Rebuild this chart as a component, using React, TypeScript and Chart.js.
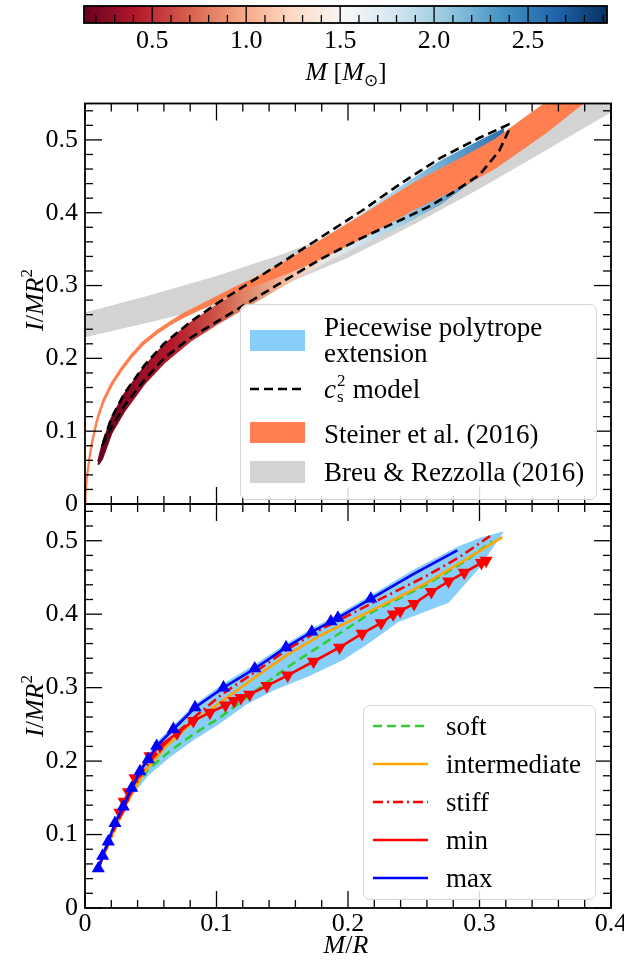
import React, { useEffect, useRef } from 'react';
import { Chart, registerables } from 'chart.js';
Chart.register(...registerables);

const FONT = "'Liberation Serif', 'Times New Roman', serif";

// ---------------- axes / ticks ----------------
const xTicks = [0, 0.1, 0.2, 0.3, 0.4];
const yTicks = [0, 0.1, 0.2, 0.3, 0.4, 0.5];
const massTicks = [0.5, 1.0, 1.5, 2.0, 2.5];
const massMin = 0.137;
const massMax = 2.92;

// ---------------- top panel data ----------------
// Breu & Rezzolla (2016) band
const grayC = [0, 0.05, 0.1, 0.15, 0.2, 0.25, 0.3, 0.35, 0.4];
const grayLow = [0.229, 0.25, 0.272, 0.3, 0.338, 0.384, 0.433, 0.485, 0.538];
const grayHigh = [0.263, 0.287, 0.313, 0.343, 0.378, 0.42, 0.468, 0.518, 0.585];

// Steiner et al. (2016) band
const steinerC = [0, 0.0005, 0.0015, 0.003, 0.005, 0.0075, 0.01, 0.014, 0.02, 0.027, 0.035, 0.044, 0.055, 0.065, 0.075, 0.088, 0.1, 0.113, 0.133, 0.155, 0.18, 0.21, 0.25, 0.29, 0.312, 0.35, 0.378, 0.4];
const steinerUp = [0, 0.018, 0.038, 0.06, 0.083, 0.104, 0.122, 0.143, 0.165, 0.185, 0.204, 0.222, 0.238, 0.25, 0.261, 0.273, 0.284, 0.296, 0.313, 0.335, 0.362, 0.395, 0.44, 0.478, 0.5, 0.55, 0.585, 0.62];
const steinerLo = [0, 0.016, 0.036, 0.057, 0.08, 0.101, 0.119, 0.14, 0.162, 0.182, 0.201, 0.219, 0.235, 0.247, 0.257, 0.268, 0.278, 0.29, 0.303, 0.318, 0.338, 0.365, 0.405, 0.44, 0.462, 0.51, 0.55, 0.58];

// Piecewise polytrope extension (cloud of models, coloured by mass)
const ppC = [0.010, 0.013, 0.02, 0.03, 0.045, 0.06, 0.08, 0.10, 0.12, 0.15, 0.18, 0.21, 0.24, 0.27, 0.30, 0.318];
const ppUp = [0.058, 0.08, 0.117, 0.151, 0.188, 0.218, 0.248, 0.272, 0.294, 0.328, 0.363, 0.397, 0.435, 0.47, 0.498, 0.514];
const ppLo = [0.054, 0.062, 0.097, 0.128, 0.165, 0.194, 0.224, 0.247, 0.268, 0.3, 0.33, 0.357, 0.383, 0.412, 0.452, 0.505];

// c_s^2 model envelope
const csUpC = [0.013, 0.02, 0.03, 0.045, 0.06, 0.08, 0.10, 0.12, 0.15, 0.18, 0.21, 0.24, 0.27, 0.30, 0.322];
const csUpI = [0.08, 0.118, 0.152, 0.19, 0.22, 0.25, 0.275, 0.298, 0.332, 0.367, 0.402, 0.44, 0.475, 0.503, 0.521];
const csLoC = [0.013, 0.02, 0.03, 0.045, 0.06, 0.08, 0.10, 0.12, 0.15, 0.18, 0.21, 0.24, 0.26, 0.28, 0.30, 0.315, 0.322];
const csLoI = [0.08, 0.105, 0.135, 0.17, 0.2, 0.228, 0.25, 0.272, 0.305, 0.337, 0.365, 0.39, 0.407, 0.428, 0.452, 0.485, 0.512];

// ---------------- bottom panel data ----------------
const bandUpC = [0.0095, 0.0134, 0.0177, 0.0228, 0.0291, 0.0355, 0.0418, 0.0481, 0.0545, 0.0672, 0.0837, 0.1053, 0.1291, 0.1529, 0.1725, 0.1923, 0.2173, 0.25, 0.2831, 0.30, 0.318];
const bandUpI = [0.052, 0.074, 0.094, 0.12, 0.143, 0.168, 0.19, 0.207, 0.225, 0.248, 0.277, 0.305, 0.331, 0.359, 0.38, 0.399, 0.425, 0.46, 0.491, 0.503, 0.512];
const bandLoC = [0.0095, 0.0115, 0.018, 0.0253, 0.0355, 0.0481, 0.0646, 0.0824, 0.1027, 0.123, 0.1436, 0.17, 0.196, 0.215, 0.2383, 0.2765, 0.2989, 0.318];
const bandLoI = [0.05, 0.055, 0.09, 0.118, 0.153, 0.181, 0.206, 0.229, 0.252, 0.278, 0.297, 0.316, 0.338, 0.36, 0.39, 0.4163, 0.4616, 0.512];

const softC = [0.0115, 0.018, 0.0253, 0.0355, 0.0481, 0.0646, 0.0824, 0.1027, 0.123, 0.1541, 0.191, 0.2199, 0.2594, 0.29, 0.3094];
const softI = [0.06, 0.095, 0.1223, 0.159, 0.1886, 0.2137, 0.2366, 0.2593, 0.2867, 0.328, 0.371, 0.4044, 0.44, 0.473, 0.4993];

const interC = [0.0101, 0.02, 0.03, 0.045, 0.06, 0.08, 0.1068, 0.13, 0.1541, 0.18, 0.2173, 0.2594, 0.29, 0.3173];
const interI = [0.053, 0.096, 0.137, 0.185, 0.217, 0.25, 0.285, 0.315, 0.345, 0.372, 0.4044, 0.4423, 0.475, 0.505];

const stiffC = [0.0101, 0.02, 0.03, 0.045, 0.06, 0.08, 0.105, 0.13, 0.1541, 0.18, 0.2173, 0.2594, 0.285, 0.3081];
const stiffI = [0.054, 0.098, 0.14, 0.19, 0.222, 0.255, 0.292, 0.322, 0.3523, 0.38, 0.414, 0.4518, 0.478, 0.5064];

const minC = [0.0265, 0.0297, 0.033, 0.038, 0.0494, 0.057, 0.07, 0.0824, 0.095, 0.1068, 0.1133, 0.1186, 0.1252, 0.1383, 0.1541, 0.1738, 0.1936, 0.2107, 0.2252, 0.2344, 0.2397, 0.2502, 0.2634, 0.2765, 0.2884, 0.3015, 0.305];
const minI = [0.13, 0.145, 0.158, 0.177, 0.2068, 0.2205, 0.238, 0.2548, 0.266, 0.276, 0.282, 0.286, 0.2907, 0.3025, 0.3167, 0.3356, 0.3547, 0.3736, 0.388, 0.3997, 0.4044, 0.414, 0.4305, 0.4448, 0.4566, 0.47, 0.473];

const maxC = [0.0101, 0.0134, 0.0177, 0.0228, 0.0291, 0.0355, 0.0418, 0.0481, 0.0545, 0.0672, 0.0837, 0.1053, 0.1291, 0.1529, 0.1725, 0.187, 0.1923, 0.2173, 0.25, 0.2831];
const maxI = [0.0538, 0.071, 0.0904, 0.1155, 0.138, 0.1634, 0.186, 0.2023, 0.2205, 0.2434, 0.273, 0.300, 0.326, 0.3547, 0.376, 0.390, 0.395, 0.421, 0.455, 0.487];
const maxMarkerCount = 18;

// ---------------- styles ----------------
const RDBU = ['#67001f', '#b2182b', '#d6604d', '#f4a582', '#fddbc7', '#f7f7f7', '#d1e5f0', '#92c5de', '#4393c3', '#2166ac', '#053061'];
const CLOUD_STOPS: [number, string][] = [
  [0.01, '#67001f'], [0.035, '#8e0c25'], [0.065, '#b2182b'], [0.095, '#cb4a42'], [0.12, '#df8064'],
  [0.15, '#f1b89c'], [0.18, '#f3e4dc'], [0.205, '#d5e7f1'], [0.24, '#a6cfe4'], [0.28, '#5fa2cc'], [0.32, '#2a6fb0'],
];

const pts = (xs: number[], ys: number[]) => xs.map((x, i) => ({ x, y: ys[i] }));
const shape = (lc: number[], li: number[], uc: number[], ui: number[]) => [...pts(lc, li), ...pts(uc, ui).reverse()];
const fmt = (v: number) => (v === 0 ? '0' : v.toFixed(1));
const zeroPad = (s: any) => { s.paddingLeft = 0; s.paddingRight = 0; s.paddingTop = 0; s.paddingBottom = 0; };

function inwardTicks(sides: { top: boolean; bottom: boolean; left: boolean; right: boolean }) {
  return {
    id: 'inwardTicks',
    afterDraw(chart: any) {
      const { ctx, chartArea: a, scales } = chart;
      const xs = scales.x;
      const ys = scales.y;
      const MAJ = 17;
      const MIN = 8;
      ctx.save();
      ctx.strokeStyle = '#000';
      ctx.lineWidth = 1.3;
      const line = (x1: number, y1: number, x2: number, y2: number) => {
        ctx.beginPath();
        ctx.moveTo(x1, y1);
        ctx.lineTo(x2, y2);
        ctx.stroke();
      };
      for (let k = 0; k <= 20; k++) {
        const v = k * 0.02;
        const px = xs.getPixelForValue(v);
        const len = k % 5 === 0 ? MAJ : MIN;
        if (sides.bottom) line(px, a.bottom, px, a.bottom - len);
        if (sides.top) line(px, a.top, px, a.top + len);
      }
      for (let k = 0; k <= 27; k++) {
        const v = k * 0.02;
        const py = ys.getPixelForValue(v);
        const len = k % 5 === 0 ? MAJ : MIN;
        if (sides.left) line(a.left, py, a.left + len, py);
        if (sides.right) line(a.right, py, a.right - len, py);
      }
      ctx.lineWidth = 1.8;
      ctx.strokeRect(a.left, a.top, a.right - a.left, a.bottom - a.top);
      ctx.restore();
    },
  };
}

const colorbarPlugin = {
  id: 'colorbar',
  afterDraw(chart: any) {
    const { ctx, chartArea: a, scales } = chart;
    const xs = scales.x;
    ctx.save();
    const g = ctx.createLinearGradient(a.left, 0, a.right, 0);
    RDBU.forEach((c, i) => g.addColorStop(i / (RDBU.length - 1), c));
    ctx.fillStyle = g;
    ctx.fillRect(a.left, a.top, a.right - a.left, a.bottom - a.top);
    ctx.strokeStyle = '#000';
    ctx.lineWidth = 1.3;
    for (let k = 2; k <= 29; k++) {
      const v = k / 10;
      const px = xs.getPixelForValue(v);
      const major = k % 5 === 0;
      ctx.beginPath();
      ctx.moveTo(px, a.bottom);
      ctx.lineTo(px, major ? a.top : a.bottom - 8);
      ctx.stroke();
    }
    ctx.lineWidth = 1.8;
    ctx.strokeRect(a.left, a.top, a.right - a.left, a.bottom - a.top);
    ctx.restore();
  },
};

const tickFont = { family: FONT, size: 26, lineHeight: 1 };

function makeColorbar(canvas: HTMLCanvasElement) {
  return new Chart(canvas, {
    type: 'line',
    data: { datasets: [] },
    options: {
      animation: false,
      responsive: true,
      maintainAspectRatio: false,
      layout: { padding: { left: 84, right: 17, top: 6, bottom: 0 }, autoPadding: false } as any,
      plugins: { legend: { display: false }, tooltip: { enabled: false } },
      scales: {
        x: {
          type: 'linear',
          min: massMin,
          max: massMax,
          grid: { display: false, drawTicks: false },
          border: { display: false },
          afterBuildTicks: (s: any) => { s.ticks = massTicks.map((v) => ({ value: v })); },
          ticks: { font: tickFont, color: '#000', padding: 5, callback: (v: any) => Number(v).toFixed(1) },
          afterFit: (s: any) => { s.height = 39; zeroPad(s); },
        },
        y: { display: false, min: 0, max: 1 },
      },
    },
    plugins: [colorbarPlugin],
  } as any);
}

function axisX(showLabels: boolean, height: number) {
  return {
    type: 'linear',
    min: 0,
    max: 0.4,
    grid: { display: false, drawTicks: false },
    border: { display: false },
    afterBuildTicks: (s: any) => { s.ticks = xTicks.map((v) => ({ value: v })); },
    ticks: { display: showLabels, font: tickFont, color: '#000', padding: 3, maxRotation: 0, autoSkip: false, callback: (v: any) => fmt(Number(v)) },
    afterFit: (s: any) => { s.height = height; zeroPad(s); },
  };
}
function axisY() {
  return {
    type: 'linear',
    min: 0,
    max: 0.55,
    grid: { display: false, drawTicks: false },
    border: { display: false },
    afterBuildTicks: (s: any) => { s.ticks = yTicks.map((v) => ({ value: v })); },
    ticks: { font: tickFont, color: '#000', padding: 7, autoSkip: false, callback: (v: any) => fmt(Number(v)) },
    afterFit: (s: any) => { s.width = 85; zeroPad(s); },
  };
}

function makeTop(canvas: HTMLCanvasElement) {
  const cloudFill = (c: any) => {
    const ch = c.chart;
    if (!ch.chartArea) return '#d6604d';
    const xs = ch.scales.x;
    const first = CLOUD_STOPS[0][0];
    const last = CLOUD_STOPS[CLOUD_STOPS.length - 1][0];
    const g = ch.ctx.createLinearGradient(xs.getPixelForValue(first), 0, xs.getPixelForValue(last), 0);
    CLOUD_STOPS.forEach(([v, col]) => g.addColorStop((v - first) / (last - first), col));
    return g;
  };
  return new Chart(canvas, {
    type: 'line',
    data: {
      datasets: [
        { label: 'Breu & Rezzolla (2016)', data: shape(grayC, grayLow, grayC, grayHigh), fill: 'shape', backgroundColor: '#d3d3d3', borderWidth: 0, order: 10 },
        { label: 'Piecewise polytrope extension', data: shape(ppC, ppLo, ppC, ppUp), fill: 'shape', backgroundColor: cloudFill, borderColor: cloudFill, borderWidth: 2, order: 9 },
        { label: 'Steiner et al. (2016)', data: shape(steinerC, steinerLo, steinerC, steinerUp), fill: 'shape', backgroundColor: '#ff7f50', borderColor: '#ff7f50', borderWidth: 2, order: 8 },
        { label: 'c_s^2 model', data: shape(csLoC, csLoI, csUpC, csUpI), fill: false, borderColor: '#000', borderWidth: 2.6, borderDash: [9, 5], order: 1 },
      ],
    },
    options: {
      animation: false,
      responsive: true,
      maintainAspectRatio: false,
      layout: { padding: { left: 0, right: 13, top: 13.5, bottom: 0 }, autoPadding: false } as any,
      elements: { point: { radius: 0, hoverRadius: 0 }, line: { tension: 0 } },
      plugins: { legend: { display: false }, tooltip: { enabled: false } },
      scales: { x: axisX(false, 11), y: axisY() },
    },
    plugins: [inwardTicks({ top: true, bottom: true, left: true, right: true })],
  } as any);
}

function makeBottom(canvas: HTMLCanvasElement) {
  return new Chart(canvas, {
    type: 'line',
    data: {
      datasets: [
        { label: 'band', data: shape(bandLoC, bandLoI, bandUpC, bandUpI), fill: 'shape', backgroundColor: '#87cefa', borderColor: '#87cefa', borderWidth: 1, order: 10 },
        { label: 'soft', data: pts(softC, softI), borderColor: '#32cd32', borderWidth: 2.6, borderDash: [9, 5], order: 5 },
        { label: 'intermediate', data: pts(interC, interI), borderColor: '#ffa500', borderWidth: 2.6, order: 4 },
        { label: 'stiff', data: pts(stiffC, stiffI), borderColor: '#ff0000', borderWidth: 2.6, borderDash: [10, 4, 2, 4], order: 3 },
        {
          label: 'min', data: pts(minC, minI), borderColor: '#ff0000', borderWidth: 2.6, order: 2,
          pointRadius: 5, pointStyle: 'triangle', pointRotation: 180, pointBackgroundColor: '#ff0000', pointBorderColor: '#ff0000',
        },
        {
          label: 'max', data: pts(maxC, maxI), borderColor: '#0000ff', borderWidth: 2.6, order: 1,
          pointRadius: (c: any) => (c.dataIndex < maxMarkerCount ? 5 : 0), pointStyle: 'triangle', pointBackgroundColor: '#0000ff', pointBorderColor: '#0000ff',
        },
      ],
    },
    options: {
      animation: false,
      responsive: true,
      maintainAspectRatio: false,
      layout: { padding: { left: 0, right: 13, top: 10, bottom: 0 }, autoPadding: false } as any,
      elements: { point: { radius: 0, hoverRadius: 0 }, line: { tension: 0 } },
      plugins: { legend: { display: false }, tooltip: { enabled: false } },
      scales: { x: axisX(true, 59), y: axisY() },
    },
    plugins: [inwardTicks({ top: true, bottom: true, left: true, right: true })],
  } as any);
}

const LEG_FONT = 27;

function Txt(props: { left: number; cy: number; children: any }) {
  return (
    <div style={{ position: 'absolute', left: props.left, top: props.cy - 15, lineHeight: '30px', fontSize: LEG_FONT, whiteSpace: 'nowrap' }}>
      {props.children}
    </div>
  );
}

function LineSample(props: { top: number; color: string; dash?: string }) {
  return (
    <svg style={{ position: 'absolute', left: 9, top: props.top - 5 }} width={55} height={10}>
      <line x1={0} y1={5} x2={55} y2={5} stroke={props.color} strokeWidth={2.6} strokeDasharray={props.dash} />
    </svg>
  );
}

const legendBox: React.CSSProperties = {
  position: 'absolute',
  border: '1.5px solid #d4d4d4',
  borderRadius: 7,
  background: 'rgba(255,255,255,0.85)',
  boxSizing: 'border-box',
};

export default function App() {
  const cbRef = useRef<HTMLCanvasElement>(null);
  const topRef = useRef<HTMLCanvasElement>(null);
  const botRef = useRef<HTMLCanvasElement>(null);
  useEffect(() => {
    const charts = [makeColorbar(cbRef.current!), makeTop(topRef.current!), makeBottom(botRef.current!)];
    return () => charts.forEach((c) => c.destroy());
  }, []);

  const sup = { fontSize: 17, position: 'relative' as const, top: -11, lineHeight: 0 };
  return (
    <div style={{ position: 'absolute', left: 0, top: 0, width: 624, height: 967, fontFamily: FONT, color: '#000', background: '#fff', overflow: 'hidden' }}>
      <div style={{ position: 'absolute', left: 0, top: 0, width: 624, height: 62 }}>
        <canvas ref={cbRef} />
      </div>
      <div style={{ position: 'absolute', left: 0, top: 90, width: 624, height: 425 }}>
        <canvas ref={topRef} />
      </div>
      <div style={{ position: 'absolute', left: 0, top: 494, width: 624, height: 473 }}>
        <canvas ref={botRef} />
      </div>

      {/* colorbar label */}
      <div style={{ position: 'absolute', left: 346, top: 72, transform: 'translate(-50%,-50%)', fontSize: 26, whiteSpace: 'nowrap', lineHeight: '30px' }}>
        <i>M</i> [<i>M</i><sub style={{ fontSize: 17, lineHeight: 0 }}>⊙</sub>]
      </div>

      {/* y-axis titles */}
      {[300, 706].map((cy) => (
        <div key={cy} style={{ position: 'absolute', left: 35, top: cy, transform: 'translate(-50%,-50%) rotate(-90deg)', fontSize: 26, whiteSpace: 'nowrap', lineHeight: '30px' }}>
          <i>I</i>/<i>MR</i><span style={sup}>2</span>
        </div>
      ))}
      {/* x-axis title */}
      <div style={{ position: 'absolute', left: 346, top: 945, transform: 'translate(-50%,-50%)', fontSize: 26, whiteSpace: 'nowrap', lineHeight: '30px' }}>
        <i>M</i>/<i>R</i>
      </div>

      {/* top legend */}
      <div style={{ ...legendBox, left: 240, top: 304, width: 357, height: 196 }}>
        <div style={{ position: 'absolute', left: 9, top: 25, width: 55, height: 21, background: '#87cefa' }} />
        <Txt left={83} cy={22}>Piecewise polytrope</Txt>
        <Txt left={83} cy={48}>extension</Txt>
        <LineSample top={84} color="#000" dash="9 5" />
        <Txt left={83} cy={84}>
          <i>c</i>
          <span style={{ display: 'inline-block', position: 'relative', width: 10, height: 10 }}>
            <span style={{ position: 'absolute', left: 1, top: -16, fontSize: 17, lineHeight: '17px' }}>2</span>
            <span style={{ position: 'absolute', left: 1, top: 0, fontSize: 17, lineHeight: '17px' }}>s</span>
          </span>{' '}model
        </Txt>
        <div style={{ position: 'absolute', left: 9, top: 117, width: 55, height: 21, background: '#ff7f50' }} />
        <Txt left={83} cy={129}>Steiner et al. (2016)</Txt>
        <div style={{ position: 'absolute', left: 9, top: 156, width: 55, height: 22, background: '#d3d3d3' }} />
        <Txt left={83} cy={167}>Breu &amp; Rezzolla (2016)</Txt>
      </div>

      {/* bottom legend */}
      <div style={{ ...legendBox, left: 363, top: 705, width: 233, height: 195 }}>
        <LineSample top={20} color="#32cd32" dash="9 5" />
        <Txt left={82} cy={20}>soft</Txt>
        <LineSample top={58} color="#ffa500" />
        <Txt left={82} cy={58}>intermediate</Txt>
        <LineSample top={96} color="#ff0000" dash="10 4 2 4" />
        <Txt left={82} cy={96}>stiff</Txt>
        <LineSample top={134} color="#ff0000" />
        <Txt left={82} cy={134}>min</Txt>
        <LineSample top={172} color="#0000ff" />
        <Txt left={82} cy={172}>max</Txt>
      </div>
    </div>
  );
}
